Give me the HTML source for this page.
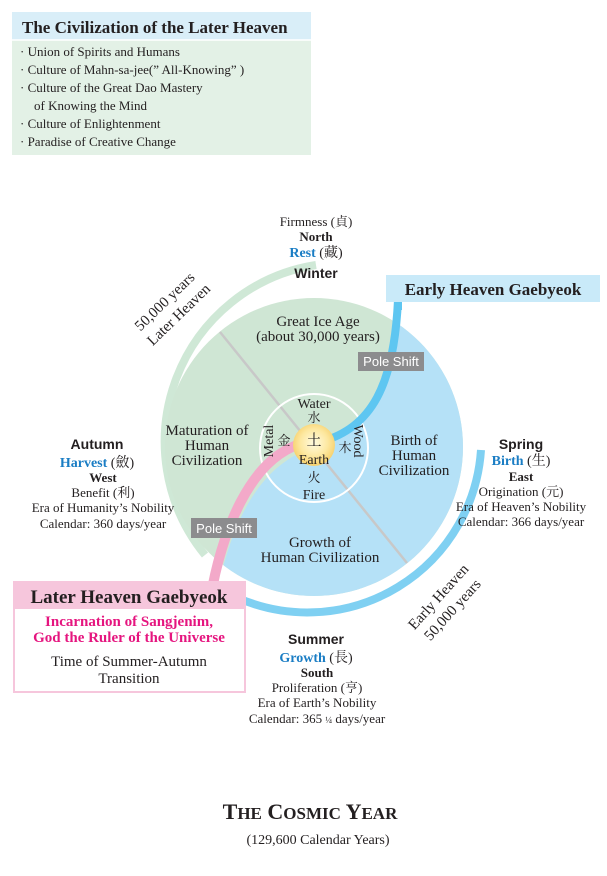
<!DOCTYPE html>
<html><head><meta charset="utf-8"><style>
body{margin:0;background:#fff;}
svg{display:block;}
.s{font-family:"Liberation Serif","Noto Serif CJK SC",serif;fill:#231f20;}
.a{font-family:"Liberation Sans","Noto Sans CJK SC",sans-serif;}
</style></head><body>
<svg width="607" height="876" viewBox="0 0 607 876" xmlns="http://www.w3.org/2000/svg">
<defs>
<clipPath id="cc"><circle cx="314" cy="447" r="149"/></clipPath>
<radialGradient id="sun" cx="50%" cy="45%" r="55%"><stop offset="0" stop-color="#fffbe0"/><stop offset="0.6" stop-color="#fde8a0"/><stop offset="1" stop-color="#f6cf6a"/></radialGradient>
</defs>
<!-- top-left box -->
<rect x="12" y="12" width="299" height="143" fill="#e3f1e6"/>
<rect x="12" y="12" width="299" height="28" fill="#d9eef8"/>
<line x1="12" y1="40" x2="311" y2="40" stroke="#fff" stroke-width="1.5"/>
<text class="s" x="22" y="33" font-size="17" font-weight="bold">The Civilization of the Later Heaven</text>
<g class="s" font-size="13">
<text x="20" y="56">· Union of Spirits and Humans</text>
<text x="20" y="74">· Culture of Mahn-sa-jee(”  All-Knowing” )</text>
<text x="20" y="92">· Culture of the Great Dao Mastery</text>
<text x="34" y="110">of Knowing the Mind</text>
<text x="20" y="128">· Culture of Enlightenment</text>
<text x="20" y="146">· Paradise of Creative Change</text>
</g>
<!-- outer arcs -->
<path d="M316,265 A179,179 0 0 0 205,555" fill="none" stroke="#cfe8d6" stroke-width="8"/>
<path d="M238,598 A174,174 0 0 0 481,450" fill="none" stroke="#7fd0f2" stroke-width="8"/>
<!-- main circle -->
<circle cx="314" cy="447" r="149" fill="#cfe6d4"/>
<g clip-path="url(#cc)">
<path d="M398,280 C392,380 370,430 314,447 C250,468 225,540 212,620 L620,620 L620,280 Z" fill="#b5e1f7"/>
</g>
<line x1="220" y1="332" x2="407" y2="563" stroke="#c8c8c8" stroke-width="2.5"/>
<circle cx="314" cy="448" r="54" fill="none" stroke="#fff" stroke-width="2"/>
<path d="M398,300 C394,385 372,428 320,442" fill="none" stroke="#5ec6f1" stroke-width="8"/>
<path d="M398,290 L398,310" stroke="#5ec6f1" stroke-width="8"/>
<path d="M300,444 C250,460 222,530 210,600" fill="none" stroke="#f3a9c9" stroke-width="10"/>
<circle cx="314" cy="445" r="21" fill="url(#sun)"/>
<!-- early heaven box -->
<rect x="386" y="275" width="214" height="27" fill="#c9eaf9"/>
<text class="s" x="493" y="295" font-size="17" font-weight="bold" text-anchor="middle">Early Heaven Gaebyeok</text>
<!-- pole shift labels -->
<rect x="358" y="352" width="66" height="19" fill="#8c8c8e"/>
<text class="a" x="391" y="366" font-size="13" fill="#fff" text-anchor="middle">Pole Shift</text>
<rect x="191" y="518" width="66" height="20" fill="#8c8c8e"/>
<text class="a" x="224" y="533" font-size="13" fill="#fff" text-anchor="middle">Pole Shift</text>
<!-- inner texts -->
<g class="s" text-anchor="middle" font-size="15">
<text x="318" y="326">Great Ice Age</text>
<text x="318" y="341">(about 30,000 years)</text>
<text x="207" y="435">Maturation of</text>
<text x="207" y="450">Human</text>
<text x="207" y="465">Civilization</text>
<text x="414" y="445">Birth of</text>
<text x="414" y="460">Human</text>
<text x="414" y="475">Civilization</text>
<text x="320" y="547">Growth of</text>
<text x="320" y="562">Human Civilization</text>
</g>
<g class="s" text-anchor="middle" font-size="14">
<text x="314" y="408">Water</text>
<text x="314" y="422" font-size="13">水</text>
<text x="284" y="445" font-size="13">金</text>
<text x="0" y="0" transform="translate(273,441) rotate(-90)">Metal</text>
<text x="314" y="445" font-size="15">土</text>
<text x="314" y="464">Earth</text>
<text x="345" y="452" font-size="13">木</text>
<text x="0" y="0" transform="translate(354,441) rotate(90)">Wood</text>
<text x="314" y="482" font-size="13">火</text>
<text x="314" y="499">Fire</text>
</g>
<!-- north -->
<g class="s" text-anchor="middle" font-size="13">
<text x="316" y="226">Firmness (貞)</text>
<text x="316" y="241" font-weight="bold">North</text>
<text x="316" y="257" font-size="14"><tspan fill="#1a7dc4" font-weight="bold">Rest</tspan> (藏)</text>
<text class="a" x="316" y="278" font-size="14" font-weight="bold">Winter</text>
</g>
<!-- autumn -->
<g class="s" text-anchor="middle" font-size="13">
<text class="a" x="97" y="449" font-size="14" font-weight="bold">Autumn</text>
<text x="97" y="467" font-size="14"><tspan fill="#1a7dc4" font-weight="bold">Harvest</tspan> (斂)</text>
<text x="103" y="482" font-weight="bold">West</text>
<text x="103" y="497">Benefit (利)</text>
<text x="103" y="512">Era of Humanity’s Nobility</text>
<text x="103" y="528">Calendar: 360 days/year</text>
</g>
<!-- spring -->
<g class="s" text-anchor="middle" font-size="13">
<text class="a" x="521" y="449" font-size="14" font-weight="bold">Spring</text>
<text x="521" y="465" font-size="14"><tspan fill="#1a7dc4" font-weight="bold">Birth</tspan> (生)</text>
<text x="521" y="481" font-weight="bold">East</text>
<text x="521" y="496">Origination (元)</text>
<text x="521" y="511">Era of Heaven’s Nobility</text>
<text x="521" y="526">Calendar: 366 days/year</text>
</g>
<!-- summer -->
<g class="s" text-anchor="middle" font-size="13">
<text class="a" x="316" y="644" font-size="14" font-weight="bold">Summer</text>
<text x="316" y="662" font-size="14"><tspan fill="#1a7dc4" font-weight="bold">Growth</tspan> (長)</text>
<text x="317" y="677" font-weight="bold">South</text>
<text x="317" y="692">Proliferation (亨)</text>
<text x="317" y="707">Era of Earth’s Nobility</text>
<text x="317" y="723">Calendar: 365 <tspan font-size="9">¼</tspan> days/year</text>
</g>
<!-- rotated arc labels -->
<g class="s" font-size="15" text-anchor="middle">
<text transform="translate(168,305) rotate(-44)">50,000 years</text>
<text transform="translate(182,318) rotate(-44)">Later Heaven</text>
<text transform="translate(442,600) rotate(-48)">Early Heaven</text>
<text transform="translate(456,613) rotate(-48)">50,000 years</text>
</g>
<!-- later heaven box -->
<rect x="14" y="582" width="231" height="110" fill="#fff" stroke="#f6c6dc" stroke-width="2"/>
<rect x="14" y="582" width="231" height="27" fill="#f6c6dc"/>
<text class="s" x="129" y="603" font-size="19" font-weight="bold" text-anchor="middle">Later Heaven Gaebyeok</text>
<text class="s" x="129" y="626" font-size="15" font-weight="bold" fill="#e5157f" style="fill:#e5157f" text-anchor="middle">Incarnation of Sangjenim,</text>
<text class="s" x="129" y="642" font-size="15" font-weight="bold" style="fill:#e5157f" text-anchor="middle">God the Ruler of the Universe</text>
<text class="s" x="129" y="666" font-size="15" text-anchor="middle">Time of Summer-Autumn</text>
<text class="s" x="129" y="683" font-size="15" text-anchor="middle">Transition</text>
<!-- title -->
<text class="s" x="310" y="819" font-size="22" font-weight="bold" text-anchor="middle">T<tspan font-size="17">HE</tspan> C<tspan font-size="17">OSMIC</tspan> Y<tspan font-size="17">EAR</tspan></text>
<text class="s" x="318" y="844" font-size="14" text-anchor="middle">(129,600 Calendar Years)</text>
</svg>
</body></html>
